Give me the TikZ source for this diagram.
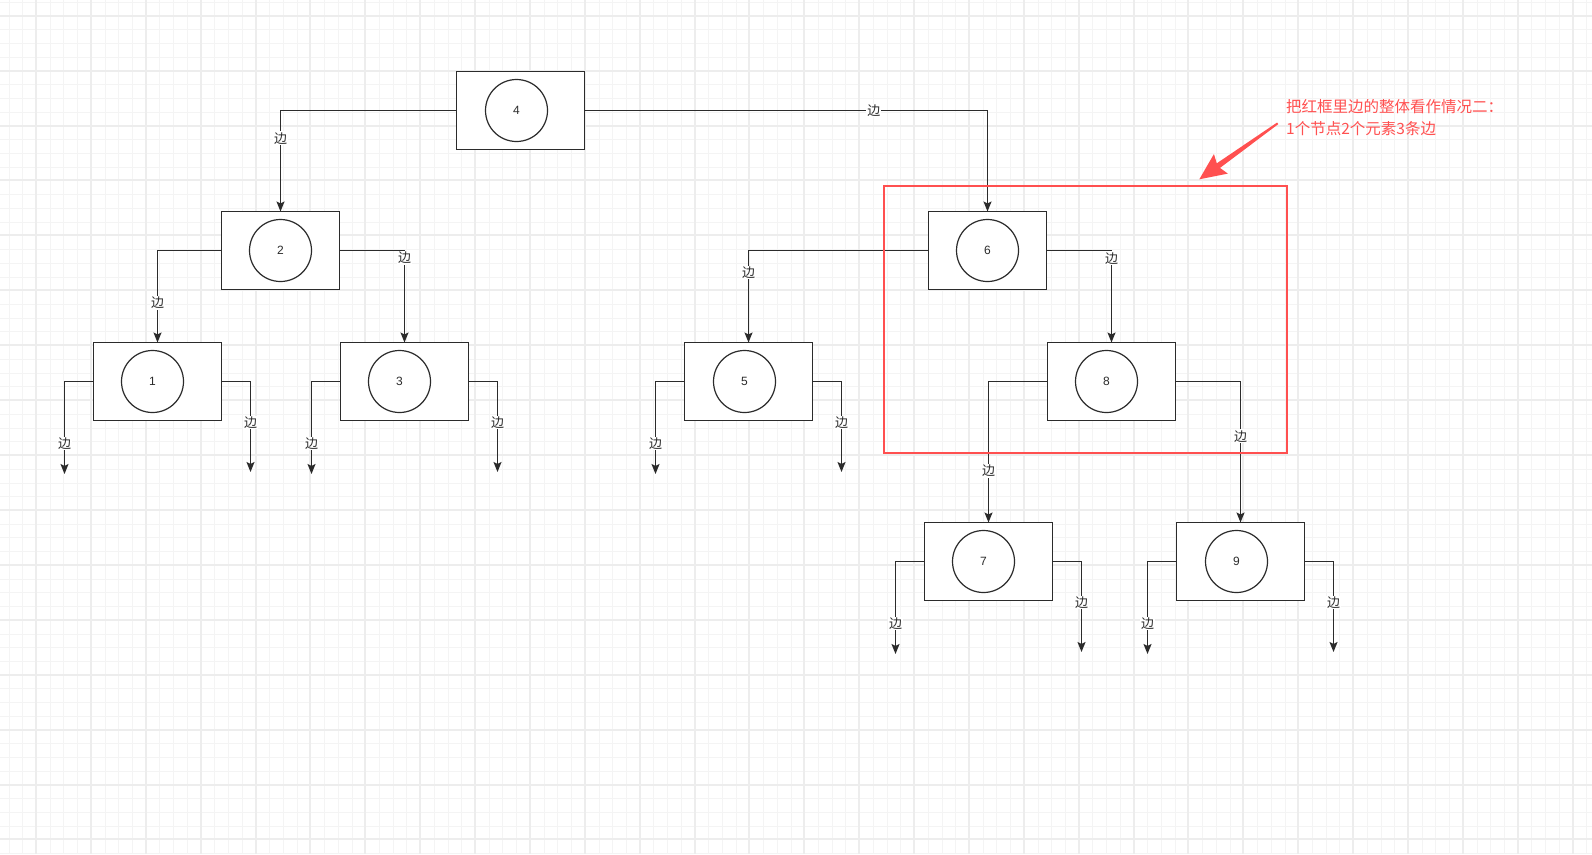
\documentclass[tikz,border=0pt]{standalone}
\usepackage{fontspec}
\setmainfont{Liberation Sans}
\newfontfamily\cjk{Noto Sans CJK SC}
\usetikzlibrary{arrows.meta,calc}
\definecolor{gridminor}{HTML}{F4F4F4}
\definecolor{gridmajor}{HTML}{EDEDED}
\definecolor{ink}{HTML}{2B2B2B}
\definecolor{redc}{HTML}{FF5050}
\begin{document}
\begin{tikzpicture}[x=1pt,y=-1pt,
  box/.style={draw=ink, line width=1.2pt, fill=white, minimum height=78pt, inner sep=0pt, outer sep=0pt},
  wide/.style={box, minimum width=128pt},
  narrow/.style={box, minimum width=118pt},
  ring/.style={circle, draw=ink, line width=1.2pt, minimum size=62pt, inner sep=0pt, text=ink, font=\fontsize{12}{12}\selectfont},
  edge/.style={draw=ink, line width=1.2pt, -{Stealth[length=10pt,width=8pt,inset=2pt]}},
  lbl/.style={fill=white, inner sep=1pt, text=ink, font=\cjk\fontsize{13}{13}\selectfont},
  frame/.style={draw=redc, line width=2pt, minimum width=403pt, minimum height=267pt, inner sep=0pt},
]
\useasboundingbox (0,0) rectangle (1592,854);
\fill[white] (0,0) rectangle (1592,854);
% grid
\foreach \i in {0,...,115} {\pgfmathsetmacro\gx{round(8.56+\i*13.72)+0.5}
  \draw[gridminor, line width=1pt] (\gx,0) -- ++(0,854);}
\foreach \i in {0,...,62} {\pgfmathsetmacro\gy{round(1.97+\i*13.73)+0.5}
  \draw[gridminor, line width=1pt] (0,\gy) -- ++(1592,0);}
\foreach \i in {0,...,28} {\pgfmathsetmacro\gx{round(36+\i*54.88)}
  \draw[gridmajor, line width=2pt] (\gx,0) -- ++(0,854);}
\foreach \i in {0,...,15} {\pgfmathsetmacro\gy{round(15.7+\i*54.92)}
  \draw[gridmajor, line width=2pt] (0,\gy) -- ++(1592,0);}

% boxes
\node[wide]   (n4) at (520.5,110.5) {};
\node[narrow] (n2) at (280.5,250.5) {};
\node[narrow] (n6) at (987.5,250.5) {};
\node[wide]   (n1) at (157.5,381.5) {};
\node[wide]   (n3) at (404.5,381.5) {};
\node[wide]   (n5) at (748.5,381.5) {};
\node[wide]   (n8) at (1111.5,381.5) {};
\node[wide]   (n7) at (988.5,561.5) {};
\node[wide]   (n9) at (1240.5,561.5) {};
% circles
\node[ring] (c4) at (516.5,110.5) {4};
\node[ring] (c2) at (280.5,250.5) {2};
\node[ring] (c6) at (987.5,250.5) {6};
\node[ring] (c1) at (152.5,381.5) {1};
\node[ring] (c3) at (399.5,381.5) {3};
\node[ring] (c5) at (744.5,381.5) {5};
\node[ring] (c8) at (1106.5,381.5) {8};
\node[ring] (c7) at (983.5,561.5) {7};
\node[ring] (c9) at (1236.5,561.5) {9};

% inner edges
\draw[edge] (n4.west) -| node[lbl,pos=0.638]{边} (n2.north);
\draw[edge] (n4.east) -| node[lbl,pos=0.359]{边} (n6.north);
\draw[edge] (n2.west) -| node[lbl,pos=0.785]{边} (n1.north);
\draw[edge] (n2.east) -| node[lbl,pos=0.539]{边} (n3.north);
\draw[edge] (n6.west) -| node[lbl,pos=0.619]{边} (n5.north);
\draw[edge] (n6.east) -| node[lbl,pos=0.542]{边} (n8.north);
\draw[edge] (n8.west) -| node[lbl,pos=0.817]{边} (n7.north);
\draw[edge] (n8.east) -| node[lbl,pos=0.694]{边} (n9.north);

% leaf edges
\foreach \n in {n1,n3,n5,n7,n9} {
  \coordinate (\n-l) at ($(\n.west)+(-29,92.5)$);
  \coordinate (\n-r) at ($(\n.east)+(29,90.5)$);
  \draw[edge] (\n.west) -| node[lbl,pos=0.835]{边} (\n-l);
  \draw[edge] (\n.east) -| node[lbl,pos=0.727]{边} (\n-r);
}

% red frame and note
\node[frame] (fr) at (1085.5,319.5) {};
\fill[redc] (1277.1,122.5) -- (1216.8,163.3) -- (1213.9,154.1) -- (1199.3,179.3)
  -- (1227.8,173.6) -- (1220.0,167.9) -- (1278.3,124.1) -- cycle;
\node[anchor=west, align=left, inner sep=0pt, text=redc, font=\cjk\fontsize{15.5}{21.6}\selectfont]
  (note) at (1286,117.5) {把红框里边的整体看作情况二：\\1个节点2个元素3条边};
\end{tikzpicture}
\end{document}
